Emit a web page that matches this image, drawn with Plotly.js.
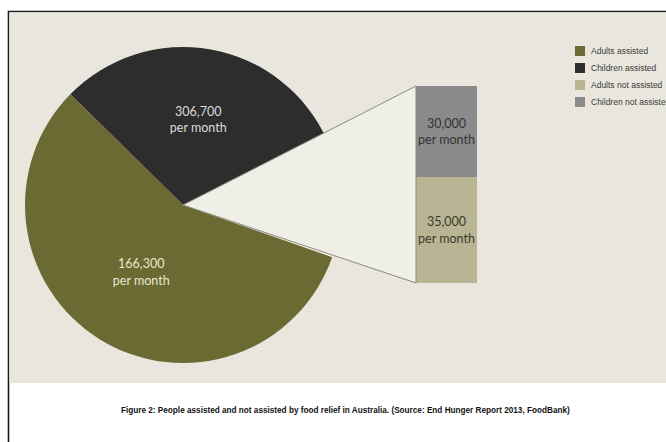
<!DOCTYPE html>
<html><head><meta charset="utf-8">
<script src="https://cdn.plot.ly/plotly-3.0.1.min.js"></script>
<style>html,body{margin:0;padding:0;background:#fff}#chart{width:666px;height:442px}</style>
</head><body><div id="chart"></div>
<script>
// ---- data ----
const pieLabels = ['Children assisted', 'Not assisted', 'Adults assisted'];
const pieValues = [166300, 65000, 306700];
const pieText = ['306,700<br>per month', '', '166,300<br>per month'];
const barCategory = ['Not assisted'];
const adultsNotAssisted = [35000];
const childrenNotAssisted = [30000];
const adultsNotText = ['35,000<br>per month'];
const childrenNotText = ['30,000<br>per month'];
const legendLabels = ['Adults assisted', 'Children assisted', 'Adults not assisted', 'Children not assisted'];
const caption = 'Figure 2: People assisted and not assisted by food relief in Australia. (Source: End Hunger Report 2013, FoodBank)';

// ---- style ----
const C = {olive:'#6b6a33', dark:'#2d2d2d', tan:'#b9b594', gray:'#8b8b8b', bg:'#e9e7dd', wedge:'#f0efe7'};
const legendColors = [C.olive, C.dark, C.tan, C.gray];
const W = 666, H = 442;
const px = x => x / W, py = y => 1 - y / H;

// layout geometry (pixels)
const pieC = [183, 205], pieR = 158;
const barBox = {x0: 416, x1: 477, y0: 86, y1: 283};

const pieDomain = {x: [px(pieC[0] - pieR), px(pieC[0] + pieR)], y: [py(pieC[1] + pieR), py(pieC[1] - pieR)]};
const barXDomain = [px(barBox.x0), px(barBox.x1)];
const barYDomain = [py(barBox.y1), py(barBox.y0)];

const startMath = 135.5; // degrees (math convention) where the first slice starts, going clockwise

const traces = [
  {
    type: 'pie', labels: pieLabels, values: pieValues, text: pieText,
    textinfo: 'text', textposition: 'inside', insidetextorientation: 'horizontal',
    sort: false, direction: 'clockwise', rotation: 90 - startMath,
    marker: {colors: [C.dark, C.wedge, C.olive], line: {width: 0}},
    textfont: {family: 'Lato, sans-serif', size: 12.5, color: ['#dcdcdc', 'rgba(0,0,0,0)', '#e8e6d0']},
    domain: pieDomain, showlegend: false, hoverinfo: 'none'
  },
  {
    type: 'bar', x: barCategory, y: adultsNotAssisted, text: adultsNotText,
    textposition: 'inside', insidetextanchor: 'middle', constraintext: 'none', textangle: 0,
    textfont: {family: 'Lato, sans-serif', size: 12.5, color: '#3b3a2a'},
    marker: {color: C.tan, line: {width: 0}}, showlegend: false, hoverinfo: 'none'
  },
  {
    type: 'bar', x: barCategory, y: childrenNotAssisted, text: childrenNotText,
    textposition: 'inside', insidetextanchor: 'middle', constraintext: 'none', textangle: 0,
    textfont: {family: 'Lato, sans-serif', size: 12.5, color: '#333333'},
    marker: {color: C.gray, line: {width: 0}}, showlegend: false, hoverinfo: 'none'
  }
];

const cx = (pieDomain.x[0] + pieDomain.x[1]) / 2, cy = (pieDomain.y[0] + pieDomain.y[1]) / 2;
const wedgePath = `M${cx},${cy} L${barXDomain[0]},${barYDomain[1]} L${barXDomain[0]},${barYDomain[0]} Z`;

const shapes = [
  {type: 'rect', xref: 'paper', yref: 'paper', x0: px(8.5), x1: px(680), y0: py(460), y1: py(11.5),
   line: {color: '#1a1a1a', width: 1.6}, fillcolor: 'rgba(0,0,0,0)', layer: 'below'},
  {type: 'rect', xref: 'paper', yref: 'paper', x0: px(9.5), x1: px(680), y0: py(383), y1: py(12.5),
   line: {width: 0}, fillcolor: C.bg, layer: 'below'},
  {type: 'path', xref: 'paper', yref: 'paper', path: wedgePath,
   fillcolor: C.wedge, line: {color: '#8a8a80', width: 1}, layer: 'above'}
];

const annotations = [
  {xref: 'paper', yref: 'paper', x: px(345), y: py(410), xanchor: 'center', yanchor: 'middle', showarrow: false,
   text: '<b>' + caption + '</b>', font: {family: 'Liberation Sans, Arial, sans-serif', size: 8.2, color: '#111'}}
];
legendLabels.forEach((lab, i) => {
  const yc = 51 + i * 17;
  shapes.push({type: 'rect', xref: 'paper', yref: 'paper', x0: px(575), x1: px(585), y0: py(yc + 5), y1: py(yc - 5),
    fillcolor: legendColors[i], line: {width: 0}, layer: 'above'});
  annotations.push({xref: 'paper', yref: 'paper', x: px(589), y: py(yc), xanchor: 'left', yanchor: 'middle',
    showarrow: false, text: lab, font: {family: 'Liberation Sans, Arial, sans-serif', size: 8.5, color: '#3a3a3a'}});
});

const layout = {
  width: W, height: H, margin: {l: 0, r: 0, t: 0, b: 0},
  paper_bgcolor: '#ffffff', plot_bgcolor: 'rgba(0,0,0,0)',
  barmode: 'stack', bargap: 0,
  xaxis: {domain: barXDomain, visible: false, fixedrange: true},
  yaxis: {domain: barYDomain, range: [0, 65000], visible: false, fixedrange: true},
  showlegend: false, shapes: shapes, annotations: annotations
};

Plotly.newPlot('chart', traces, layout, {displayModeBar: false, staticPlot: true});
</script></body></html>
